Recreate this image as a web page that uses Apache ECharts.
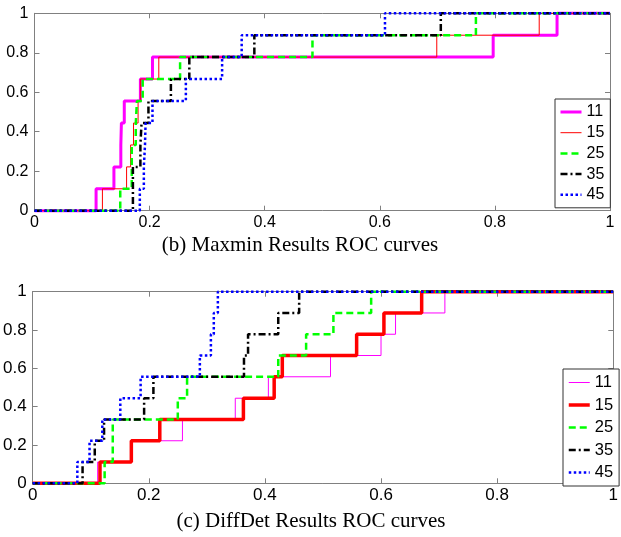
<!DOCTYPE html>
<html><head><meta charset="utf-8">
<script src="https://cdn.jsdelivr.net/npm/echarts@6/dist/echarts.min.js"></script>
<style>html,body{margin:0;padding:0;background:#fff}#c{width:621px;height:537px}</style>
</head><body><div id="c"></div>
<script>
// ---- data ----
const seriesNames = ['11', '15', '25', '35', '45'];
const axisTicks = [0, 0.2, 0.4, 0.6, 0.8, 1];
// true-positive levels reached at each step (ninths)
const tprLevels = [0.111, 0.222, 0.333, 0.444, 0.556, 0.667, 0.778, 0.889, 1];

// (b) Maxmin: false-positive rate at which each level is reached
const maxmin11 = [0.107, 0.138, 0.150, 0.151, 0.156, 0.184, 0.205, 0.797, 0.908];
const maxmin15 = [0.118, 0.160, 0.167, 0.172, 0.180, 0.184, 0.216, 0.699, 0.877];
const maxmin25 = [0.149, 0.169, 0.169, 0.176, 0.178, 0.188, 0.253, 0.483, 0.767];
const maxmin35 = [0.171, 0.171, 0.184, 0.186, 0.198, 0.237, 0.269, 0.382, 0.706];
const maxmin45 = [0.183, 0.190, 0.192, 0.193, 0.205, 0.263, 0.326, 0.360, 0.609];

// (c) DiffDet
const diffdet11 = [0.112, 0.171, 0.258, 0.349, 0.406, 0.513, 0.600, 0.625, 0.710];
const diffdet15 = [0.116, 0.170, 0.219, 0.363, 0.416, 0.430, 0.558, 0.605, 0.670];
const diffdet25 = [0.124, 0.138, 0.138, 0.250, 0.266, 0.423, 0.471, 0.518, 0.583];
const diffdet35 = [0.086, 0.107, 0.123, 0.192, 0.208, 0.364, 0.371, 0.423, 0.459];
const diffdet45 = [0.077, 0.098, 0.120, 0.151, 0.186, 0.288, 0.307, 0.312, 0.319];

const titles = ['(b) Maxmin Results ROC curves', '(c) DiffDet Results ROC curves'];

// ---- build ----
function rocPoints(xs) {
  const pts = [[0, 0]];
  let prev = 0;
  xs.forEach((x, i) => {
    pts.push([x, prev]);
    pts.push([x, tprLevels[i]]);
    prev = tprLevels[i];
  });
  pts.push([1, prev]);
  return pts;
}

const colors = ['#ff00ff', '#ff0000', '#00ff00', '#000000', '#0000ff'];
const dashes = ['solid', 'solid', [7, 4], [7, 3, 2, 3], [2.5, 2.5]];
const widthsTop = [3, 1, 2.5, 2.5, 2.5];
const widthsBot = [1, 3.5, 2.5, 2.5, 2.5];
const topData = [maxmin11, maxmin15, maxmin25, maxmin35, maxmin45];
const botData = [diffdet11, diffdet15, diffdet25, diffdet35, diffdet45];

const grids = [
  { left: 34.5, top: 13.3, width: 575.5, height: 197.4 },
  { left: 27.3, top: 291.7, width: 591.7, height: 191.6 }
];

const axisColor = '#808080';

function valAxis(gridIndex, position, showLabel, isX, fs) {
  return {
    type: 'value', gridIndex, position, min: 0, max: 1, interval: 0.2,
    axisLine: { show: true, onZero: false, lineStyle: { color: axisColor, width: 1 } },
    axisTick: { show: true, inside: true, length: 5, lineStyle: { color: axisColor } },
    axisLabel: { show: showLabel, margin: isX ? 4 : 6,
      fontFamily: 'Liberation Sans', fontSize: fs, color: '#000',
      formatter: v => String(axisTicks.find(t => Math.abs(t - v) < 1e-6) ?? v) },
    splitLine: { show: false }
  };
}

const xAxis = [
  valAxis(0, 'bottom', true, true, 16), valAxis(0, 'top', false, true, 16),
  valAxis(1, 'bottom', true, true, 17), valAxis(1, 'top', false, true, 17)
];
const yAxis = [
  valAxis(0, 'left', true, false, 16), valAxis(0, 'right', false, false, 16),
  valAxis(1, 'left', true, false, 17), valAxis(1, 'right', false, false, 17)
];

const series = [];
seriesNames.forEach((n, i) => {
  series.push({
    name: 'b' + n, type: 'line', xAxisIndex: 0, yAxisIndex: 0,
    data: rocPoints(topData[i]), symbol: 'none', showSymbol: false, clip: false,
    color: colors[i],
    lineStyle: { color: colors[i], width: widthsTop[i], type: dashes[i] }
  });
});
seriesNames.forEach((n, i) => {
  series.push({
    name: 'c' + n, type: 'line', xAxisIndex: 2, yAxisIndex: 2,
    data: rocPoints(botData[i]), symbol: 'none', showSymbol: false, clip: false,
    color: colors[i],
    lineStyle: { color: colors[i], width: widthsBot[i], type: dashes[i] }
  });
});

function legendCfg(prefix, left, top, gap, fs) {
  return {
    orient: 'vertical', left, top, padding: [5, 6, 5, 4],
    itemWidth: 21, itemHeight: 14, itemGap: gap,
    borderColor: '#333', borderWidth: 1, backgroundColor: '#fff', borderRadius: 0,
    selectedMode: false,
    itemStyle: { opacity: 0 },
    lineStyle: { width: 'inherit', type: 'inherit', color: 'inherit' },
    textStyle: { fontFamily: 'Liberation Sans', fontSize: fs, color: '#000', lineHeight: 16 },
    data: seriesNames.map(n => prefix + n),
    formatter: name => name.slice(1)
  };
}

const chart = echarts.init(document.getElementById('c'), null, { renderer: 'canvas' });
chart.setOption({
  animation: false,
  backgroundColor: '#fff',
  grid: grids,
  xAxis, yAxis, series,
  legend: [legendCfg('b', 555, 99, 4.7, 16), legendCfg('c', 563, 369, 5.5, 16.5)],
  graphic: [
    { type: 'text', style: { x: 300, y: 245, text: titles[0], textAlign: 'center', textVerticalAlign: 'middle', font: '21px "Liberation Serif"', fill: '#000' } },
    { type: 'text', style: { x: 311, y: 521, text: titles[1], textAlign: 'center', textVerticalAlign: 'middle', font: '21px "Liberation Serif"', fill: '#000' } }
  ]
});
</script></body></html>
